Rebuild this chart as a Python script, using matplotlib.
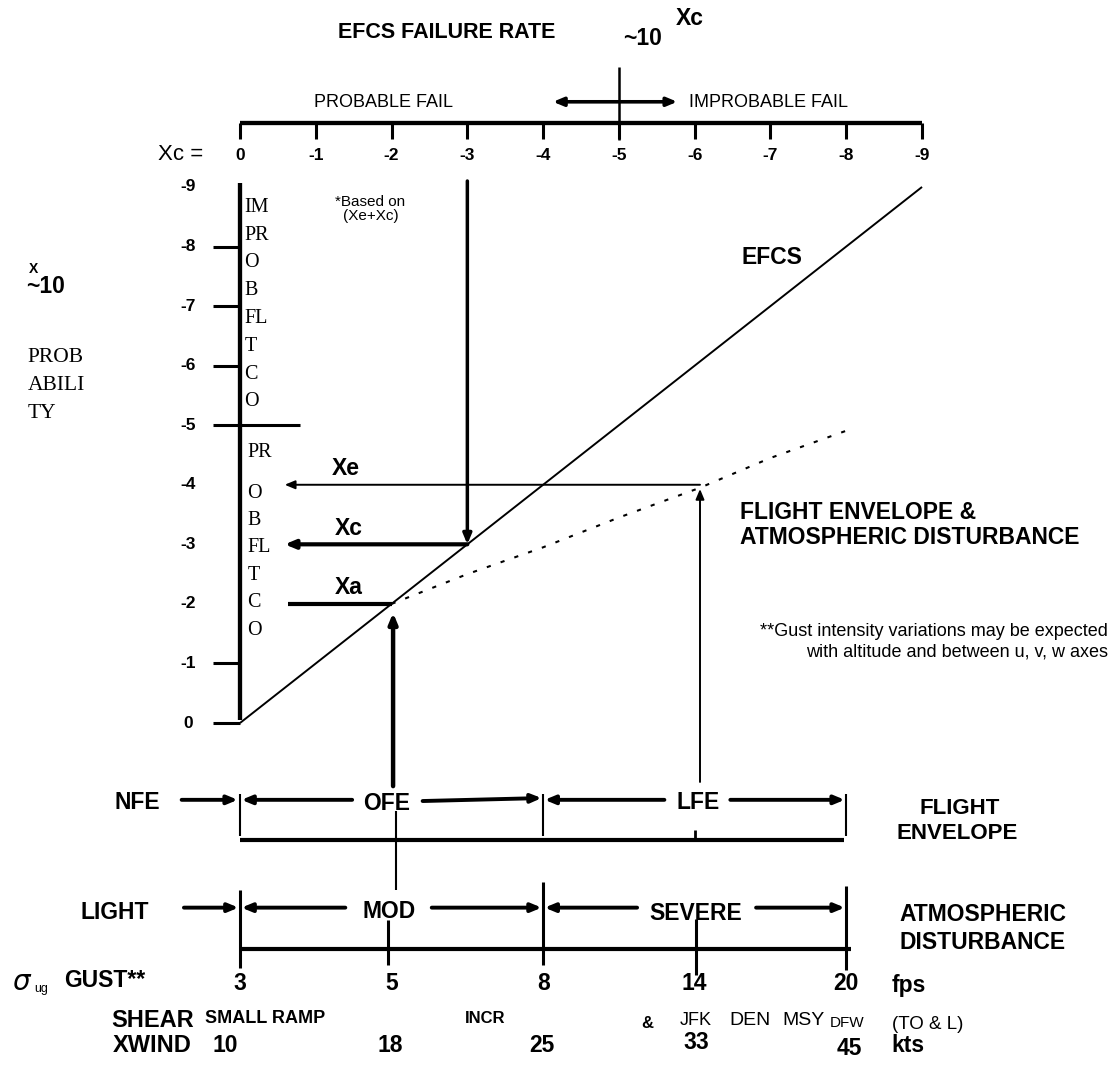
import matplotlib.pyplot as plt

# ---- scales / values ----
xc_ticks = [0, -1, -2, -3, -4, -5, -6, -7, -8, -9]       # EFCS failure rate exponent
prob_ticks = [0, -1, -2, -3, -4, -5, -6, -7, -8, -9]     # probability exponent
prob_marked = [0, -1, -5, -6, -7, -8]                     # short ticks on left axis

# EFCS line (probability = Xc)
efcs_xc = [0, -9]
efcs_prob = [0, -9]

# flight envelope & atmospheric disturbance curve (dotted)
env_xc = [-2.0, -3.0, -4.0, -5.0, -6.07, -7.0, -8.05]
env_prob = [-2.0, -2.5, -2.95, -3.45, -3.95, -4.45, -4.93]

xe, xc, xa = -4, -3, -2
xe_src = -6.07          # where the LFE line meets the dotted curve

gust_fps = [3, 5, 8, 14, 20]
xwind_kts = [10, 18, 25, 33, 45]
envelope = ['NFE', 'OFE', 'LFE']
disturb = ['LIGHT', 'MOD', 'SEVERE']
upper_txt = ['IM', 'PR', 'O', 'B', 'FL', 'T', 'C', 'O']
lower_txt = ['PR', 'O', 'B', 'FL', 'T', 'C', 'O']
shear_txt = ['SMALL RAMP', 'INCR', '&', 'JFK', 'DEN', 'MSY', 'DFW']

SANS = 'Liberation Sans'
SERIF = 'Liberation Serif'
plt.rcParams['font.family'] = [SANS, 'DejaVu Sans']

fig = plt.figure(figsize=(11.14, 10.70), dpi=100)
ax = fig.add_axes([0, 0, 1, 1])
ax.set_xlim(-3.167, 11.533)
ax.set_ylim(-5.826, 12.139)
ax.axis('off')


def line(x, y, lw, **kw):
    ax.plot(x, y, color='k', lw=lw, solid_capstyle='butt', **kw)


def arrow(x0, y0, x1, y1, lw, style='-|>'):
    ax.annotate('', xy=(x1, y1), xytext=(x0, y0),
                arrowprops=dict(arrowstyle=style + ',head_length=0.6,head_width=0.25',
                                lw=lw, color='k', shrinkA=0, shrinkB=0))


def txt(x, y, s, size, bold=False, ha='center', va='center', family=SANS):
    ax.text(x, y, s, fontsize=size, fontweight='bold' if bold else 'normal',
            ha=ha, va=va, family=family)


# ---- top: EFCS failure rate scale ----
txt(2.73, 11.60, 'EFCS FAILURE RATE', 15.5, bold=True)
txt(5.31, 11.50, '~10', 16.5, bold=True)
txt(5.93, 11.83, 'Xc', 16.5, bold=True)
line([5, 5], [11.01, 9.79], 1.8)
txt(1.90, 10.41, 'PROBABLE FAIL', 13)
arrow(4.13, 10.43, 5.77, 10.43, 2.6, style='<|-|>')
txt(5.93, 10.41, 'IMPROBABLE FAIL', 13, ha='left')

line([0, 9], [10.07, 10.07], 3.1)
for t in xc_ticks:
    line([-t, -t], [10.07, 9.8], 2.2)
    txt(-t, 9.52, str(t), 12.5, bold=True)
txt(-0.79, 9.54, 'Xc =', 16)

# ---- left: probability scale ----
line([0, 0], [0.05, 9.06], 3.1)
for p in prob_marked:
    line([-0.36, 0], [-p, -p], 2.2)
line([0, 0.79], [5, 5], 2.2)
for p in prob_ticks:
    txt(-0.68, -p, str(p), 12.5, bold=True)

txt(-2.78, 7.62, 'X', 10, bold=True, ha='left')
txt(-2.82, 7.33, '~10', 16.5, bold=True, ha='left')
for i, s in enumerate(['PROB', 'ABILI', 'TY']):
    txt(-2.80, 6.13 - 0.47 * i, s, 15.5, ha='left', family=SERIF)

for i, s in enumerate(upper_txt):
    txt(0.06, 8.66 - 0.467 * i, s, 14.5, ha='left', family=SERIF)
txt(0.1, 4.55, lower_txt[0], 14.5, ha='left', family=SERIF)
for i, s in enumerate(lower_txt[1:]):
    txt(0.1, 3.86 - 0.46 * i, s, 14.5, ha='left', family=SERIF)

txt(1.72, 8.75, '*Based on', 11)
txt(1.72, 8.51, '(Xe+Xc)', 11)

# ---- main lines ----
line([-v for v in efcs_xc], [-v for v in efcs_prob], 1.4)
txt(7.02, 7.82, 'EFCS', 16.5, bold=True)
ax.plot([-v for v in env_xc], [-v for v in env_prob], color='k', lw=1.5,
        ls=(0, (2, 5)))

# Xc: from EFCS rate tick down to EFCS line, across to probability axis
arrow(-xc, 9.1, -xc, -xc, 2.5)
arrow(-xc, -xc, 0.59, -xc, 3.0)
txt(1.43, 3.26, 'Xc', 16.5, bold=True)

# Xe: from flight envelope curve across
arrow(-xe_src, -xe, 0.59, -xe, 1.4)
txt(1.39, 4.27, 'Xe', 16.5, bold=True)
arrow(-xe_src, -0.99, -xe_src, 3.93, 1.4)

# Xa
line([-xa, 0.63], [-xa, -xa], 3.0)
txt(1.43, 2.28, 'Xa', 16.5, bold=True)
arrow(2.02, -1.06, 2.02, 1.85, 3.2)

# ---- right labels ----
txt(6.6, 3.53, 'FLIGHT ENVELOPE &', 16.5, bold=True, ha='left')
txt(6.6, 3.11, 'ATMOSPHERIC DISTURBANCE', 16.5, bold=True, ha='left')
txt(11.45, 1.53, '**Gust intensity variations may be expected', 13, ha='right')
txt(11.45, 1.19, 'with altitude and between u, v, w axes', 13, ha='right')

# ---- flight envelope row ----
ya = -1.29
txt(-1.36, -1.33, envelope[0], 16.5, bold=True)
arrow(-0.77, ya, -0.03, ya, 2.8)
for xs in (0, 4, 8):
    line([xs, xs], [-1.2, -1.9], 1.5)
arrow(1.48, ya, 0.02, ya, 2.8)
txt(1.94, -1.35, envelope[1], 16.5, bold=True)
arrow(2.41, -1.31, 3.98, -1.26, 2.8)
arrow(5.6, ya, 4.02, ya, 2.8)
txt(6.04, -1.34, envelope[2], 16.5, bold=True)
arrow(6.47, ya, 7.98, ya, 2.8)
line([0, 7.97], [-1.96, -1.96], 3.0)
line([6.0, 6.0], [-1.80, -1.96], 2.0)
line([2.06, 2.06], [-1.48, -2.81], 1.5)
txt(9.5, -1.44, 'FLIGHT', 16, bold=True)
txt(9.47, -1.86, 'ENVELOPE', 16, bold=True)

# ---- atmospheric disturbance row ----
yb = -3.1
txt(-1.65, -3.19, disturb[0], 16.5, bold=True)
arrow(-0.74, yb, -0.02, yb, 2.8)
for xs, y0, y1 in ((0, -2.8, -4.11), (4, -2.67, -4.06), (8, -2.74, -4.14)):
    line([xs, xs], [y0, y1], 2.2)
arrow(1.39, yb, 0.02, yb, 2.8)
txt(1.97, -3.16, disturb[1], 16.5, bold=True)
arrow(2.53, yb, 3.98, yb, 2.8)
arrow(5.24, yb, 4.02, yb, 2.8)
txt(6.02, -3.20, disturb[2], 16.5, bold=True)
arrow(6.81, yb, 7.98, yb, 2.8)
line([1.95, 1.95], [-3.31, -4.06], 2.2)
line([6.02, 6.02], [-3.29, -4.23], 2.2)
line([0, 8.06], [-3.79, -3.79], 3.0)
txt(9.8, -3.22, 'ATMOSPHERIC', 16.5, bold=True)
txt(9.8, -3.68, 'DISTURBANCE', 16.5, bold=True)

# ---- gust / shear / crosswind rows ----
ax.text(-2.89, -4.35, '\u03c3', fontsize=20, style='italic', ha='center',
        va='center', family='DejaVu Sans')
txt(-2.63, -4.47, 'ug', 9)
txt(-1.78, -4.33, 'GUST**', 16.5, bold=True)
for i, g in enumerate(gust_fps):
    txt(2 * i, -4.37, str(g), 16.5, bold=True)
txt(8.6, -4.40, 'fps', 16.5, bold=True, ha='left')

txt(-1.16, -4.99, 'SHEAR', 17, bold=True)
shear_x = [0.33, 3.23, 5.37, 6.02, 6.73, 7.43, 8.01]
shear_y = [-4.96, -4.96, -5.05, -5.0, -4.99, -4.99, -5.03]
shear_sz = [13, 12, 12, 13, 14, 14, 11]
for s, x, y, sz in zip(shear_txt, shear_x, shear_y, shear_sz):
    txt(x, y, s, sz, bold=s in ('SMALL RAMP', 'INCR', '&'))
txt(8.6, -5.07, '(TO & L)', 13.5, ha='left')

txt(-1.16, -5.41, 'XWIND', 17, bold=True)
xwind_x = [-0.2, 1.98, 3.99, 6.02, 8.04]
xwind_y = [-5.41, -5.41, -5.41, -5.37, -5.46]
for k, x, y in zip(xwind_kts, xwind_x, xwind_y):
    txt(x, y, str(k), 16.5, bold=True)
txt(8.6, -5.41, 'kts', 16.5, bold=True, ha='left')

fig.savefig('out.png', dpi=100, facecolor='white')
